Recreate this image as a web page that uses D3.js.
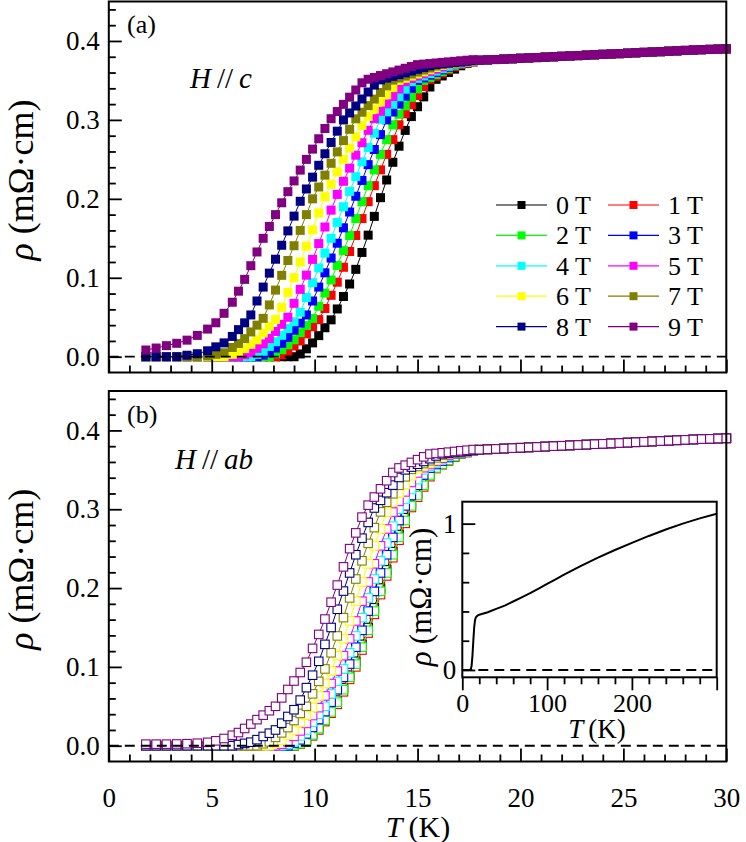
<!DOCTYPE html>
<html><head><meta charset="utf-8">
<script src="https://cdn.jsdelivr.net/npm/d3@7"></script>
<style>
body{margin:0;background:#fff}
svg{display:block}
svg text{fill:#000}
</style>
</head><body>
<svg id="chart" width="746" height="842"></svg>
<script>
// ---------------- DATA ----------------
const FIELDS = ['0 T','1 T','2 T','3 T','4 T','5 T','6 T','7 T','8 T','9 T'];
const COLORS = ['#000000','#ff0000','#00ff00','#0000ff','#00ffff','#ff00ff','#ffff00','#808000','#000080','#800080'];

const X_TICKS = [0,5,10,15,20,25,30];
const Y_TICKS = [0,0.1,0.2,0.3,0.4];
const INSET_X_TICKS = [0,100,200,300];
const INSET_X_LABELS = [0,100,200];
const INSET_Y_TICKS = [0,1];

// temperature grid of the transition region (K)
const T_GRID = [1.8,2.3,2.8,3.3,3.8,4.3,4.8,5.2,5.6,6.0,6.3,6.6,6.9,7.2,7.5,7.8,8.1,8.4,8.7,9.0,9.3,9.6,9.9,10.2,10.5,10.8,11.1,11.4,11.7,12.0,12.3,12.6,12.9,13.2,13.5,13.8,14.1,14.4,14.7,15.0,15.3,15.6,15.9,16.2,16.5,16.8,17.1,17.4,17.7];
// normal state (all fields overlap)
const T_NORMAL = [18.0,18.4,18.8,19.2,19.6,20.0,20.4,20.8,21.2,21.6,22.0,22.4,22.8,23.2,23.6,24.0,24.4,24.8,25.2,25.6,26.0,26.4,26.8,27.2,27.6,28.0,28.4,28.8,29.2,29.6,30.0];
const RHO_NORMAL = [.3755,.376,.3765,.377,.3775,.378,.3785,.379,.3795,.38,.3805,.381,.3815,.382,.3825,.383,.3835,.384,.3845,.385,.3855,.386,.3865,.387,.3875,.388,.3885,.389,.3893,.3897,.390];

// (a) H // c
const rhoC0 = [0,0,0,0,0,0,0,0,0,0,0,0,0,0,0,0,0,0,0,0,.0035,.010,.0175,.0267,.0367,.0467,.0605,.0763,.0921,.1107,.1321,.154,.1778,.2015,.2239,.2463,.2667,.2867,.3042,.3167,.3292,.3417,.3514,.3557,.36,.3643,.3686,.3714,.3734];
const rhoC1 = [0,0,0,0,0,0,0,0,0,0,0,0,0,0,0,0,0,.0025,.0071,.0136,.02,.029,.038,.047,.0611,.0778,.0944,.1133,.1333,.1536,.175,.1964,.2167,.2367,.2563,.275,.2938,.3077,.3192,.3308,.3423,.3513,.3553,.3593,.3633,.3673,.3706,.3722,.3739];
const rhoC2 = [0,0,0,0,0,0,0,0,0,0,0,0,0,0,0,0,.0038,.009,.015,.0215,.0305,.0395,.0485,.0639,.0806,.0972,.1156,.1344,.1536,.175,.1964,.2167,.2367,.2563,.275,.2938,.3071,.3179,.3286,.3393,.35,.3538,.3575,.3613,.365,.3688,.371,.3725,.374];
const rhoC3 = [0,0,0,0,0,0,0,0,0,0,0,0,0,0,.002,.005,.011,.017,.0245,.0335,.0425,.0529,.0706,.0882,.1063,.125,.1438,.1633,.1833,.2033,.2233,.2433,.2625,.2813,.30,.31,.32,.33,.34,.35,.3533,.3567,.36,.3633,.3667,.37,.3714,.3728,.3741];
const rhoC4 = [0,0,0,0,0,0,0,0,0,0,0,0,0,.003,.007,.013,.019,.0271,.0357,.0443,.0563,.075,.0938,.1125,.1313,.15,.17,.19,.2094,.2281,.2469,.2651,.2831,.3006,.3102,.3197,.3293,.3389,.3484,.3526,.3556,.3587,.3618,.3649,.3679,.3704,.3717,.373,.3742];
const rhoC5 = [0,0,0,0,0,0,0,0,0,0,0,.0025,.005,.0106,.0163,.023,.032,.041,.05,.0676,.0853,.1033,.1233,.1433,.1643,.1857,.2056,.2222,.2389,.2553,.2711,.2868,.3016,.3109,.3203,.3297,.3391,.3484,.3524,.3554,.3583,.3612,.3641,.3671,.37,.3711,.3722,.3733,.3744];
const rhoC6 = [0,0,0,0,0,0,0,0,0,.0029,.005,.0103,.0156,.0214,.03,.0386,.0471,.0625,.0813,.10,.12,.14,.1607,.1821,.2026,.2184,.2342,.25,.2643,.2786,.2929,.3045,.3136,.3227,.3318,.3409,.35,.3527,.3555,.3582,.3609,.3636,.3664,.3691,.3706,.3716,.3726,.3736,.3745];
const rhoC7 = [0,0,0,0,0,0,.001,.003,.005,.0117,.0167,.0229,.0314,.04,.0486,.0656,.0844,.1031,.1219,.1406,.16,.18,.20,.215,.23,.245,.2595,.2738,.2881,.3014,.3097,.3181,.3264,.3347,.3431,.3504,.353,.3555,.3581,.3606,.3632,.3657,.3683,.3703,.3712,.372,.3729,.3738,.3746];
const rhoC8 = [0,0,0,0,.0019,.0038,.0075,.0125,.0175,.0257,.0343,.0429,.0529,.0706,.0882,.1059,.1235,.1412,.1594,.1781,.1969,.2125,.2275,.2425,.2571,.2714,.2857,.30,.3088,.3176,.3265,.3353,.3441,.3507,.353,.3552,.3574,.3596,.3619,.3641,.3663,.3685,.3703,.3711,.3719,.3727,.3735,.3744,.3752];
const rhoC9 = [.0085,.011,.014,.017,.021,.027,.035,.043,.055,.069,.083,.098,.1153,.1327,.15,.165,.18,.195,.2091,.2227,.2364,.25,.263,.2761,.2891,.3015,.3106,.3197,.3288,.3379,.347,.3515,.3538,.3562,.3585,.3608,.3631,.3654,.3677,.37,.3707,.3714,.3721,.3728,.3735,.3742,.3749,.3756,.3763];

// (b) H // ab
const rhoAB0 = [0,0,0,0,0,0,0,0,0,0,0,0,0,0,0,0,0,0,0,0,.003,.0075,.015,.0235,.0341,.0447,.0579,.0737,.0895,.1071,.1286,.15,.175,.20,.2231,.2462,.2679,.2893,.3065,.3196,.3326,.3457,.3531,.3577,.3623,.3669,.3706,.3722,.3739];
const rhoAB1 = [0,0,0,0,0,0,0,0,0,0,0,0,0,0,0,0,0,0,0,0,.002,.005,.0125,.02,.0306,.0412,.0526,.0684,.0842,.10,.1214,.1429,.1667,.1917,.2154,.2385,.2607,.2821,.3022,.3152,.3283,.3413,.3516,.3564,.3612,.366,.3703,.372,.3738];
const rhoAB2 = [0,0,0,0,0,0,0,0,0,0,0,0,0,0,0,0,0,0,0,0,.0025,.0063,.0138,.0218,.0324,.0429,.0553,.0711,.0868,.1036,.125,.1464,.1708,.1958,.2192,.2423,.2643,.2857,.3043,.3174,.3304,.3435,.3524,.3572,.362,.3668,.3706,.3722,.3739];
const rhoAB3 = [0,0,0,0,0,0,0,0,0,0,0,0,0,0,0,0,0,0,0,.003,.0075,.015,.0233,.0333,.0433,.0553,.0711,.0868,.1036,.125,.1464,.1708,.1958,.2192,.2423,.2643,.2857,.3043,.3174,.3304,.3435,.3522,.3567,.3611,.3656,.37,.3714,.3728,.3741];
const rhoAB4 = [0,0,0,0,0,0,0,0,0,0,0,0,0,0,0,0,0,0,.002,.005,.0125,.02,.03,.04,.05,.0658,.0816,.0974,.1179,.1393,.1625,.1875,.2115,.2346,.2571,.2786,.30,.3125,.325,.3375,.35,.3543,.3586,.3629,.3671,.3704,.3717,.373,.3742];
const rhoAB5 = [0,0,0,0,0,0,0,0,0,0,0,0,0,0,0,0,0,.002,.005,.0119,.0188,.0283,.0383,.0483,.0632,.0789,.0947,.1143,.1357,.1583,.1833,.2077,.2308,.2536,.275,.2964,.31,.322,.334,.346,.3527,.3567,.3607,.3647,.3687,.3708,.372,.3731,.3743];
const rhoAB6 = [0,0,0,0,0,0,0,0,0,0,0,0,0,0,0,0,.003,.0071,.0136,.02,.0295,.0389,.0484,.0632,.0789,.0947,.1143,.1357,.1583,.1833,.2077,.2308,.2536,.275,.2964,.3093,.3204,.3315,.3426,.3513,.355,.3588,.3625,.3663,.37,.3711,.3722,.3733,.3744];
const rhoAB7 = [0,0,0,0,0,0,0,0,0,0,0,0,0,0,.0025,.005,.0106,.0163,.023,.032,.041,.05,.0658,.0816,.0974,.1179,.1393,.1625,.1875,.2115,.2346,.2567,.2767,.2967,.3089,.3196,.3304,.3411,.3506,.3542,.3579,.3615,.3652,.3688,.3706,.3716,.3726,.3736,.3745];
const rhoAB8 = [0,0,0,0,0,0,0,0,0,0,.0015,.003,.0045,.0077,.0118,.0159,.02,.0286,.0371,.0457,.0579,.0737,.0895,.1071,.1286,.15,.1731,.1962,.2192,.2423,.2633,.2833,.3016,.3113,.321,.3306,.3403,.35,.3535,.3571,.3606,.3641,.3676,.3703,.3712,.372,.3729,.3738,.3746];
const rhoAB9 = [.002,.002,.002,.0022,.0026,.0032,.0043,.0062,.0092,.0133,.0167,.0219,.0275,.0331,.0388,.0444,.05,.0607,.0714,.0821,.0929,.1059,.1235,.1412,.1607,.1821,.2038,.2269,.25,.27,.29,.3052,.3155,.3259,.3362,.3466,.3524,.3559,.3594,.3629,.3665,.37,.3708,.3716,.3724,.3733,.3741,.3749,.3757];

// inset: zero-field resistivity up to 300 K
const INSET_T   = [2,8,10,11,12,13,14,15,16,18,20,30,40,50,60,70,80,90,100,110,120,140,160,180,200,220,240,260,280,300];
const INSET_RHO = [0,0,.003,.03,.10,.20,.29,.34,.36,.372,.378,.395,.418,.44,.468,.496,.525,.556,.588,.62,.652,.712,.768,.82,.869,.916,.960,1.0,1.036,1.068];

const RHO_C  = [rhoC0,rhoC1,rhoC2,rhoC3,rhoC4,rhoC5,rhoC6,rhoC7,rhoC8,rhoC9];
const RHO_AB = [rhoAB0,rhoAB1,rhoAB2,rhoAB3,rhoAB4,rhoAB5,rhoAB6,rhoAB7,rhoAB8,rhoAB9];

// ---------------- FONT PICK (first installed serif) ----------------
function pickFont(cands) {
  const ctx = document.createElement('canvas').getContext('2d');
  const test = 'mΩ0.4 (K) abcHTgy';
  for (const f of cands) {
    for (const base of ['monospace', 'sans-serif']) {
      ctx.font = `40px ${base}`; const w0 = ctx.measureText(test).width;
      ctx.font = `40px "${f}", ${base}`; const w1 = ctx.measureText(test).width;
      if (Math.abs(w1 - w0) > 0.5) return `"${f}", serif`;
    }
  }
  return 'serif';
}
const FONT = pickFont(['Liberation Serif','DejaVu Serif','Noto Serif','Times New Roman','Tinos','FreeSerif','Nimbus Roman','Nimbus Roman No9 L','Georgia']);

// ---------------- DRAWING ----------------
const svg = d3.select('#chart').style('font-family', FONT);
const X_LEFT = 108.8, X_RIGHT = 726.3;
const x = d3.scaleLinear().domain([0,30]).range([X_LEFT, X_RIGHT]);
const yA = d3.scaleLinear().domain([-0.02,0.45]).range([372.5, 1.5]);
const yB = d3.scaleLinear().domain([-0.02,0.45]).range([761.5, 391]);

const X_MINOR = d3.range(0,31,1).filter(v => v % 5 !== 0);
const Y_MINOR = d3.range(1,23).map(k => +(k*0.02).toFixed(2)).filter(v => Math.abs(v*10 - Math.round(v*10)) > 1e-6);

const TICK_FONT = 27;

function styleAxis(g, font) {
  g.attr('font-family', null).attr('font-size', null);
  g.select('.domain').remove();
  g.selectAll('.tick line').attr('stroke','#000').attr('stroke-width',1.8);
  g.selectAll('.tick text').style('font-size', font + 'px').style('font-family', FONT);
}

function fitLength(textSel, target, base) {
  const n = textSel.node();
  const len = n.getComputedTextLength();
  if (len > 0) textSel.style('font-size', Math.min(base * 1.2, base * target / len) + 'px');
}

function panel(y, series, filled, showXLabels) {
  const g = svg.append('g');
  const top = y.range()[1], bottom = y.range()[0];
  const line = d3.line().x(d => x(d[0])).y(d => y(d[1]));
  series.forEach((rho, i) => {
    const pts = T_GRID.map((t, j) => [t, rho[j]]).concat(T_NORMAL.map((t, j) => [t, RHO_NORMAL[j]]));
    g.append('path').attr('d', line(pts)).attr('fill','none').attr('stroke', COLORS[i]).attr('stroke-width', 1);
    const s = filled ? 9 : 8.5;
    g.append('g').selectAll('rect').data(pts).join('rect')
      .attr('x', d => x(d[0]) - s/2).attr('y', d => y(d[1]) - s/2)
      .attr('width', s).attr('height', s)
      .attr('fill', filled ? COLORS[i] : '#fff')
      .attr('stroke', filled ? 'none' : COLORS[i])
      .attr('stroke-width', filled ? 0 : 1.1);
  });
  g.append('line').attr('x1', X_LEFT).attr('x2', X_RIGHT).attr('y1', y(0)).attr('y2', y(0))
    .attr('stroke','#000').attr('stroke-width',1.8).attr('stroke-dasharray','10,6');
  const ya = g.append('g').attr('transform', `translate(${X_LEFT},0)`)
    .call(d3.axisLeft(y).tickValues(Y_TICKS).tickSize(-13).tickPadding(9).tickFormat(d3.format('.1f')));
  styleAxis(ya, TICK_FONT);
  const ym = g.append('g').attr('transform', `translate(${X_LEFT},0)`)
    .call(d3.axisLeft(y).tickValues(Y_MINOR).tickSize(-7).tickFormat(''));
  styleAxis(ym, TICK_FONT);
  const xa = g.append('g').attr('transform', `translate(0,${bottom})`)
    .call(d3.axisBottom(x).tickValues(X_TICKS).tickSize(-13).tickPadding(26).tickFormat(showXLabels ? d3.format('d') : ''));
  styleAxis(xa, TICK_FONT);
  const xm = g.append('g').attr('transform', `translate(0,${bottom})`)
    .call(d3.axisBottom(x).tickValues(X_MINOR).tickSize(-7).tickFormat(''));
  styleAxis(xm, TICK_FONT);
  g.append('rect').attr('x', X_LEFT).attr('y', top).attr('width', X_RIGHT - X_LEFT).attr('height', bottom - top)
    .attr('fill','none').attr('stroke','#000').attr('stroke-width',2);
  const yl = g.append('text').attr('transform', `translate(33,${(top+bottom)/2 - 7}) rotate(-90)`)
    .attr('text-anchor','middle').style('font-size','30px').style('font-family', FONT);
  yl.append('tspan').style('font-style','italic').text('ρ');
  yl.append('tspan').attr('dx', 9).text('(mΩ·cm)');
  fitLength(yl, 166, 30);
  return g;
}

panel(yA, RHO_C, true, false);
panel(yB, RHO_AB, false, true);

svg.append('text').attr('x',127).attr('y',33).style('font-size','26px').style('font-family', FONT).text('(a)');
svg.append('text').attr('x',127).attr('y',423).style('font-size','26px').style('font-family', FONT).text('(b)');

function fieldLabel(xp, yp, dir) {
  const t = svg.append('text').attr('x', xp).attr('y', yp).style('font-size','29px').style('font-family', FONT);
  t.append('tspan').style('font-style','italic').text('H');
  t.append('tspan').attr('dx', 6).text('//');
  t.append('tspan').attr('dx', 6).style('font-style','italic').text(dir);
}
fieldLabel(190, 88, 'c');
fieldLabel(175, 469, 'ab');

// legend
FIELDS.forEach((f, i) => {
  const col = i % 2, row = Math.floor(i / 2);
  const lx = 496 + col * 112, ly = 205 + row * 30.4;
  const lg = svg.append('g');
  lg.append('line').attr('x1', lx).attr('x2', lx + 51).attr('y1', ly).attr('y2', ly)
    .attr('stroke', COLORS[i]).attr('stroke-width', 1.2);
  lg.append('rect').attr('x', lx + 25.5 - 4).attr('y', ly - 4).attr('width', 8).attr('height', 8).attr('fill', COLORS[i]);
  lg.append('text').attr('x', lx + 60).attr('y', ly + 9).style('font-size','26px').style('font-family', FONT).text(f);
});

// x label
const xl = svg.append('text').attr('x', 418).attr('y', 837).attr('text-anchor','middle').style('font-size','30px').style('font-family', FONT);
xl.append('tspan').style('font-style','italic').text('T');
xl.append('tspan').attr('dx', 6).text('(K)');

// ---------------- INSET ----------------
const xi = d3.scaleLinear().domain([0,300]).range([462.3, 716.7]);
const yi = d3.scaleLinear().domain([-0.05,1.15]).range([677.3, 501.7]);
const gi = svg.append('g');
gi.append('rect').attr('x', 462.3).attr('y', 501.7).attr('width', 716.7-462.3).attr('height', 677.3-501.7).attr('fill','#fff');
gi.append('line').attr('x1', xi(0)).attr('x2', xi(300)).attr('y1', yi(0)).attr('y2', yi(0))
  .attr('stroke','#000').attr('stroke-width',1.8).attr('stroke-dasharray','10,6');
gi.append('path').attr('d', d3.line().x(d => xi(d[0])).y(d => yi(d[1]))(INSET_T.map((t,j) => [t, INSET_RHO[j]])))
  .attr('fill','none').attr('stroke','#000').attr('stroke-width',2);
const iya = gi.append('g').attr('transform', `translate(${xi(0)},0)`)
  .call(d3.axisLeft(yi).tickValues(INSET_Y_TICKS).tickSize(-13).tickPadding(6).tickFormat(d3.format('d')));
styleAxis(iya, 27);
const iym = gi.append('g').attr('transform', `translate(${xi(0)},0)`)
  .call(d3.axisLeft(yi).tickValues([0.2,0.4,0.6,0.8]).tickSize(-7).tickFormat(''));
styleAxis(iym, 27);
const ixa = gi.append('g').attr('transform', `translate(0,${yi.range()[0]})`)
  .call(d3.axisBottom(xi).tickValues(INSET_X_TICKS).tickSize(13).tickPadding(3).tickFormat(d => INSET_X_LABELS.includes(d) ? d : ''));
styleAxis(ixa, 26);
const ixm = gi.append('g').attr('transform', `translate(0,${yi.range()[0]})`)
  .call(d3.axisBottom(xi).tickValues(d3.range(20,300,20).filter(v => v % 100 !== 0)).tickSize(7).tickFormat(''));
styleAxis(ixm, 26);
gi.append('rect').attr('x', 462.3).attr('y', 501.7).attr('width', 716.7-462.3).attr('height', 677.3-501.7)
  .attr('fill','none').attr('stroke','#000').attr('stroke-width',2);
const iyl = gi.append('text').attr('transform', 'translate(431,597) rotate(-90)')
  .attr('text-anchor','middle').style('font-size','26px').style('font-family', FONT);
iyl.append('tspan').style('font-style','italic').text('ρ');
iyl.append('tspan').attr('dx', 7).text('(mΩ·cm)');
fitLength(iyl, 139, 26);
const ixl = gi.append('text').attr('x', 597).attr('y', 738).attr('text-anchor','middle').style('font-size','27px').style('font-family', FONT);
ixl.append('tspan').style('font-style','italic').text('T');
ixl.append('tspan').attr('dx', 5).text('(K)');
</script>
</body></html>
